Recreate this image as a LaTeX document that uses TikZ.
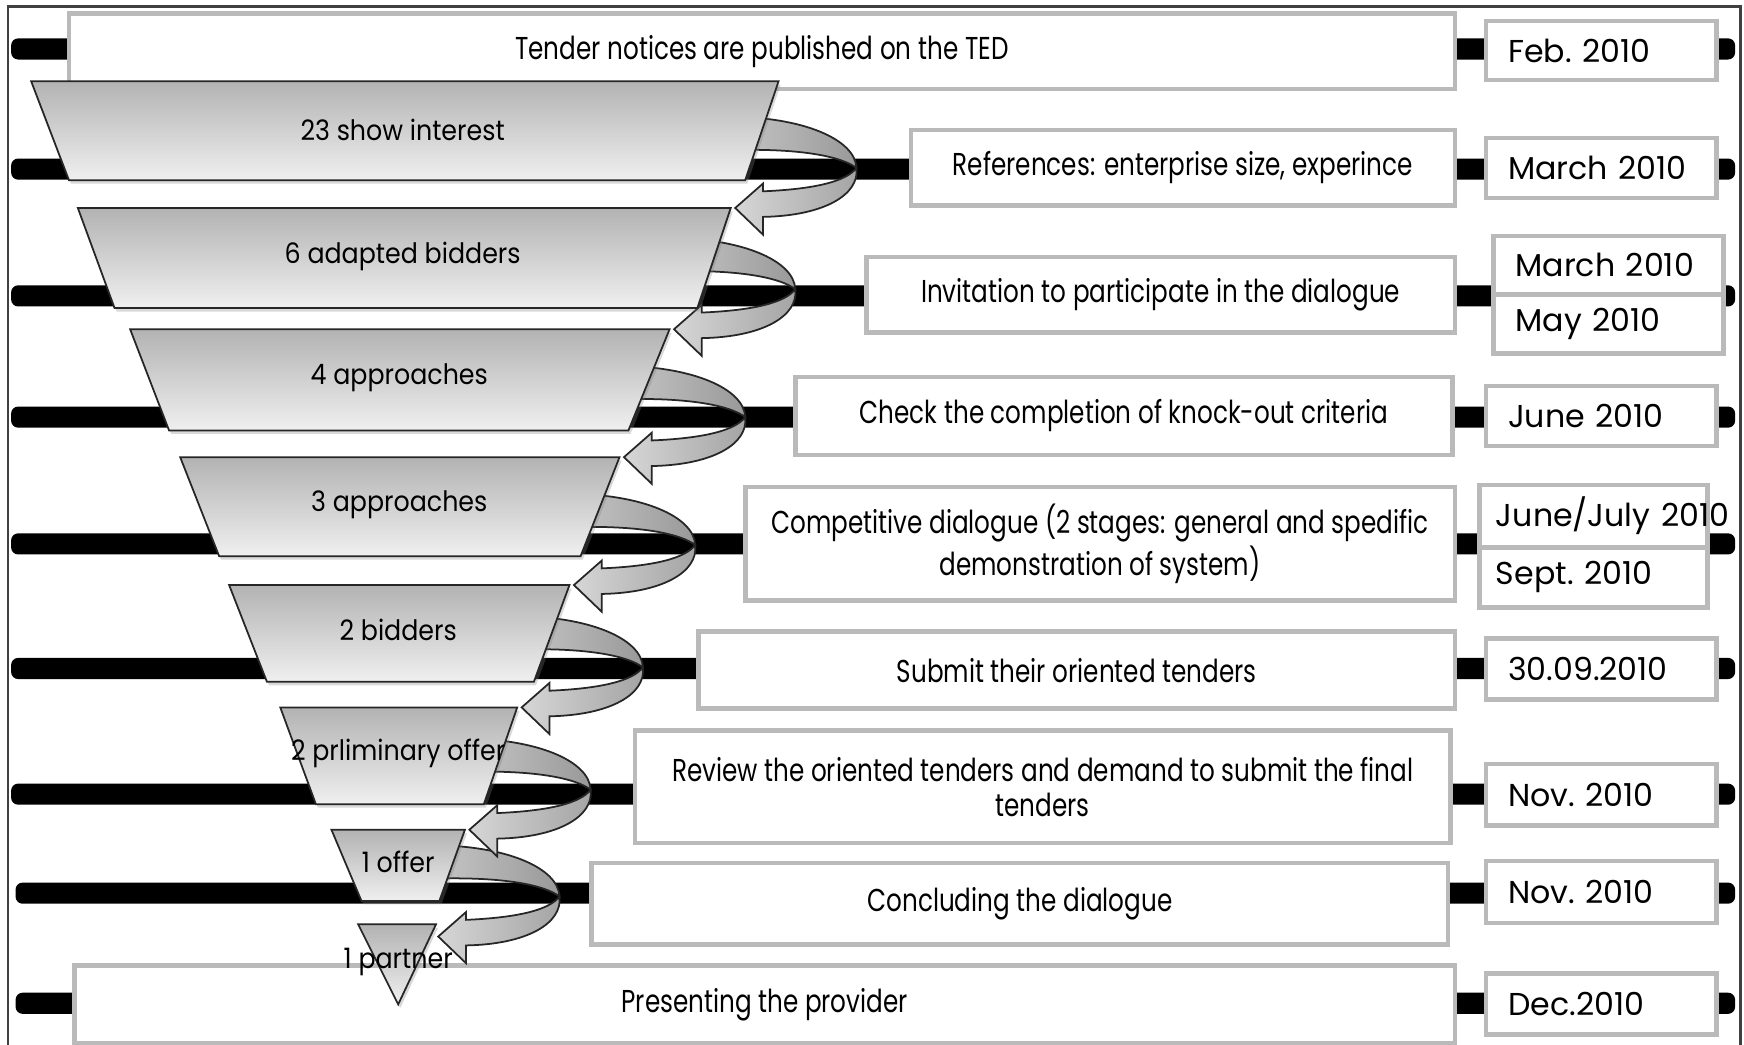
\documentclass[tikz,border=0pt]{standalone}
\usepackage{fontspec}
\setmainfont{Poppins}
\newfontfamily\narrowfont[FakeStretch=0.78]{Poppins}
\newfontfamily\funnelfont[FakeStretch=0.9]{Poppins}
\usetikzlibrary{calc}
\usetikzlibrary{shadows}
\newcommand{\pxu}{0.11122mm}

\tikzset{
  bar/.style={fill=black, rounded corners=2pt},
  descbox/.style={draw=black!27, line width=1.3pt, fill=white, align=center, inner sep=2pt,
    font=\narrowfont\fontsize{9}{9.8}\selectfont},
  datebox/.style={draw=black!27, line width=1.3pt, fill=white, text width=167*\pxu,
    inner xsep=20*\pxu, inner ysep=0pt, align=left, font=\fontsize{9}{10}\selectfont},
  funnel/.style={draw=black!85, line width=0.5pt, top color=black!30, bottom color=black!6,
    drop shadow={opacity=0.3, shadow xshift=0.6pt, shadow yshift=-1pt}},
  funnellabel/.style={font=\funnelfont\fontsize{8}{9}\selectfont, inner sep=0pt},
  ribbontop/.style={draw=black!85, line width=0.5pt, left color=black!22, right color=black!40},
  ribbonlow/.style={draw=black!85, line width=0.5pt, left color=black!16, right color=black!36}
}

% turning arrow, tip at #1
\newcommand{\turnarrow}[1]{%
  \begin{scope}[shift={(#1)}]
    \draw[ribbontop] (-5,-82) .. controls (60,-82) and (108,-62) .. (109,-36)
      .. controls (96,-46) and (60,-54) .. (-5,-52) -- cycle;
    \draw[ribbonlow] (109,-36) .. controls (112,-12) and (80,7) .. (25,8) -- (25,24) -- (0,0)
      -- (25,-22) -- (25,-15) .. controls (72,-17) and (100,-24) .. (109,-36) -- cycle;
  \end{scope}}

\begin{document}
\begin{tikzpicture}[x=0.11122mm, y=-0.11122mm]
  \useasboundingbox (0,0) rectangle (1568,939);
  \draw[black!75, line width=0.7pt] (7,960) -- (7,6) -- (1565,6) -- (1565,960);

  % time bars
  \fill[bar] (10,34.5) rectangle (1560,53.5);
  \fill[bar] (10,142.5) rectangle (1560,161.5);
  \fill[bar] (10,256.5) rectangle (1560,275.5);
  \fill[bar] (10,365.5) rectangle (1560,384.5);
  \fill[bar] (10,479.5) rectangle (1560,498.5);
  \fill[bar] (10,591.5) rectangle (1560,610.5);
  \fill[bar] (10,704.5) rectangle (1560,723.5);
  \fill[bar] (14,793.5) rectangle (1560,812.5);
  \fill[bar] (14,892.5) rectangle (1560,911.5);

  % steps
  \node[descbox, minimum width=1246*\pxu, minimum height=68*\pxu] (desc0) at (685,46) {Tender notices are published on the TED};
  \node[descbox, minimum width=489*\pxu, minimum height=68*\pxu] (desc1) at (1063.5,151) {References: enterprise size, experince};
  \node[descbox, minimum width=529*\pxu, minimum height=68*\pxu] (desc2) at (1043.5,265) {Invitation to participate in the dialogue};
  \node[descbox, minimum width=591*\pxu, minimum height=70*\pxu] (desc3) at (1010.5,374) {Check the completion of knock-out criteria};
  \node[descbox, minimum width=638*\pxu, minimum height=102*\pxu] (desc4) at (989,489) {Competitive dialogue (2 stages: general and spedific\\ demonstration of system)};
  \node[descbox, minimum width=680*\pxu, minimum height=69*\pxu] (desc5) at (968,602.5) {Submit their oriented tenders};
  \node[descbox, minimum width=733*\pxu, minimum height=101*\pxu] (desc6) at (937.5,707.5) {Review the oriented tenders and demand to submit the final\\ tenders};
  \node[descbox, minimum width=770*\pxu, minimum height=73*\pxu] (desc7) at (917,812.5) {Concluding the dialogue};
  \node[descbox, minimum width=1241*\pxu, minimum height=70*\pxu] (desc8) at (687.5,903) {Presenting the provider};

  % dates
  \node[datebox, minimum height=53*\pxu] (date0) at (1439.5,45.5) {Feb.~2010};
  \node[datebox, minimum height=54*\pxu] (date1) at (1439.5,151) {March~2010};
  \node[datebox, minimum height=53*\pxu] (date2a) at (1446,238.5) {March~2010};
  \node[datebox, minimum height=53*\pxu] (date2b) at (1446,291.5) {May~2010};
  \node[datebox, minimum height=54*\pxu] (date3) at (1439.5,374) {June~2010};
  \node[datebox, minimum height=56*\pxu, inner xsep=15*\pxu, text width=175*\pxu] (date4a) at (1432.5,464) {June/July~2010};
  \node[datebox, minimum height=54*\pxu, inner xsep=15*\pxu, text width=175*\pxu] (date4b) at (1432.5,519) {Sept.~2010};
  \node[datebox, minimum height=55*\pxu] (date5) at (1439.5,601.5) {30.09.2010};
  \node[datebox, minimum height=55*\pxu] (date6) at (1439.5,714.5) {Nov.~2010};
  \node[datebox, minimum height=56*\pxu] (date7) at (1439.5,802) {Nov.~2010};
  \node[datebox, minimum height=55*\pxu] (date8) at (1439.5,902.5) {Dec.2010};

  % funnel, drawn from the bottom up
  \draw[funnel] (322,831) -- (392,831) coordinate (f8) -- (358,903) -- cycle;
  \turnarrow{$(f8)+(2,11)$}
  \draw[funnel] (298,746) -- (418,746) coordinate (f7) -- (395,810) -- (325,810) -- cycle;
  \turnarrow{$(f7)+(4,0)$}
  \draw[funnel] (252,636) -- (465,636) coordinate (f6) -- (435,723) -- (284,723) -- cycle;
  \turnarrow{$(f6)+(4,0)$}
  \draw[funnel] (206,526) -- (512,526) coordinate (f5) -- (480,613) -- (240,613) -- cycle;
  \turnarrow{$(f5)+(4,0)$}
  \draw[funnel] (162,411) -- (557,411) coordinate (f4) -- (522,500) -- (197,500) -- cycle;
  \turnarrow{$(f4)+(4,0)$}
  \draw[funnel] (117,296) -- (602,296) coordinate (f3) -- (565,387) -- (152,387) -- cycle;
  \turnarrow{$(f3)+(4,0)$}
  \draw[funnel] (70,187) -- (657,187) coordinate (f2) -- (627,277) -- (103,277) -- cycle;
  \turnarrow{$(f2)+(4,0)$}
  \draw[funnel] (28,73) -- (700,73) coordinate (f1) -- (670,162) -- (62,162) -- cycle;

  \node[funnellabel] (lab1) at (362,117) {23 show interest};
  \node[funnellabel] (lab2) at (362,231) {6 adapted bidders};
  \node[funnellabel] (lab3) at (359,340) {4 approaches};
  \node[funnellabel] (lab4) at (359,454) {3 approaches};
  \node[funnellabel] (lab5) at (358,566) {2 bidders};
  \node[funnellabel] (lab6) at (358,677) {2 prliminary offer};
  \node[funnellabel] (lab7) at (358,775) {1 offer};
  \node[funnellabel] (lab8) at (358,865) {1 partner};
\end{tikzpicture}
\end{document}
